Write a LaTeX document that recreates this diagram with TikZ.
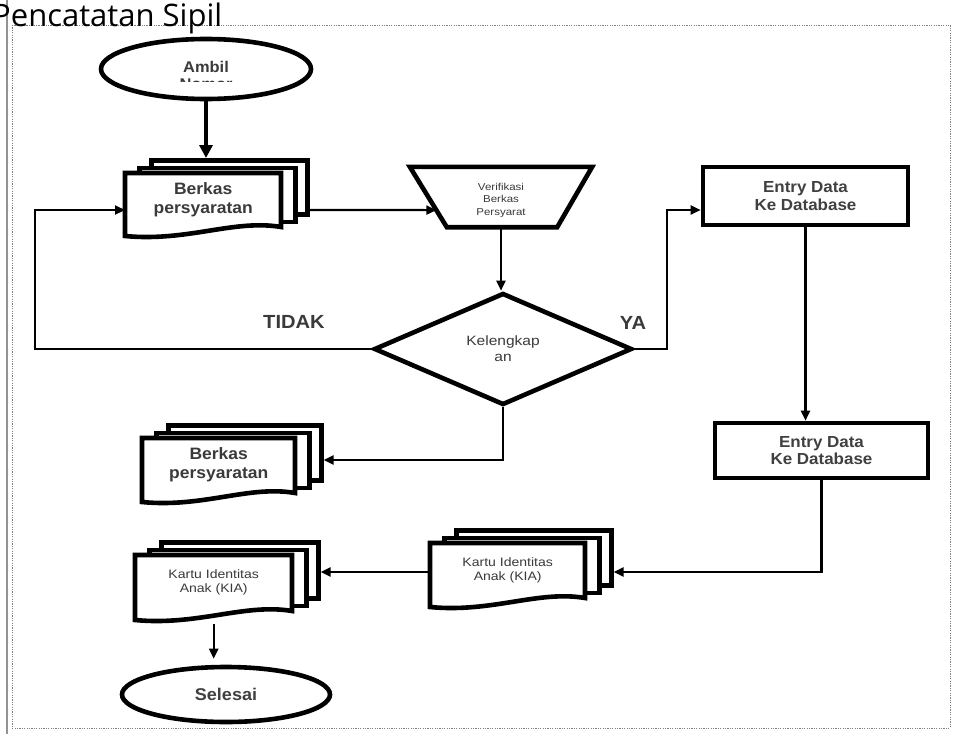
\documentclass[tikz,border=0pt]{standalone}
\usepackage{fontspec}
\setmainfont{Liberation Sans}
\newfontfamily\titlefont{Open Sans}
\newfontfamily\dgfont[FakeStretch=1.15]{Liberation Sans}
\newfontfamily\dgbold[FakeStretch=1.06]{Liberation Sans Bold}
\usetikzlibrary{shapes.geometric,arrows.meta,calc}
\definecolor{txtgray}{HTML}{3A3A3A}
\definecolor{boldgray}{HTML}{404040}
\newcommand{\fsz}[2]{\dgfont\fontsize{#1}{#2}\selectfont}
\newcommand{\fbz}[2]{\dgbold\fontsize{#1}{#2}\selectfont\color{boldgray}}
% document stack: #1 name, #2 left, #3 top, #4 width, #5 height, #6 text, #7 font
\newcommand{\dstack}[7]{%
  \node[shapeline, rectangle, minimum width=#4 pt, minimum height=#5 pt-9pt, anchor=north west, inner sep=0pt] (#1c) at (#2+24,#3-15) {};
  \node[shapeline, rectangle, minimum width=#4 pt, minimum height=#5 pt-9pt, anchor=north west, inner sep=0pt] (#1b) at (#2+12,#3-7.5) {};
  \node[rectangle, minimum width=#4 pt, minimum height=#5 pt, anchor=north west, inner sep=0pt] (#1a) at (#2,#3) {};
  \draw[shapeline] (#2,#3) -- (#2+#4,#3) -- (#2+#4,#3+#5-9)
     .. controls (#2+0.7*#4,#3+#5-17) and (#2+0.4*#4,#3+#5+6) .. (#2,#3+#5) -- cycle;
  \node[lbl, font=#7] (#1t) at ([yshift=5pt]#1a.center) {#6};
}
\begin{document}
\begin{tikzpicture}[
  x=1pt, y=-1pt,
  shapeline/.style={line width=4.6pt, draw=black, fill=white, line join=miter},
  conn/.style={line width=2.2pt, draw=black},
  arr/.style={conn, -{Triangle[length=10pt,width=9pt]}},
  bigarr/.style={line width=4pt, draw=black, -{Triangle[length=13pt,width=13pt]}},
  lbl/.style={text=txtgray, align=center, inner sep=0pt},
]
\useasboundingbox (0,0) rectangle (960,736);
\clip (0,0) rectangle (960,736);

% frame
\draw[gray, line width=1pt, dash pattern=on 1.2pt off 1.2pt] (12,25) rectangle (950,728);
\draw[gray!85, line width=1.6pt] (7,0) -- (7,734);
\node[anchor=base west, inner sep=0pt, font=\titlefont\fontsize{31}{33}\selectfont] (title) at (-8,26) {Pencatatan Sipil};

% helper levels
\coordinate (row1) at (0,210);
\coordinate (row2) at (0,460);
\coordinate (row3) at (0,572);
\coordinate (lx) at (35,0);
\coordinate (yx) at (667,0);

% start ellipse
\node[shapeline, ellipse, minimum width=210pt, minimum height=60pt, inner sep=0pt] (amb) at (206,69) {};
\node[lbl, font=\fbz{15.5}{18}] (ambt) at (206,67) {Ambil};
\begin{scope}
  \clip (100,77) rectangle (310,81.5);
  \node[lbl, font=\fbz{15.5}{18}, anchor=north] (nomt) at (206,79) {Nomor};
\end{scope}

% top stack
\dstack{sa}{125}{173}{156}{63}{Berkas\\[1pt]persyaratan}{\fbz{16.5}{18}}

% trapezoid
\node[rectangle, minimum width=182pt, minimum height=60pt, inner sep=0pt] (trap) at (501,197) {};
\draw[shapeline] (trap.north west) -- (trap.north east) -- ([xshift=-35pt]trap.south east) -- ([xshift=37pt]trap.south west) -- cycle;
\node[lbl, font=\fsz{10}{12.5}] (trapt) at ([yshift=-3pt]trap.center) {Verifikasi\\Berkas\\Persyarat};
\coordinate (trapin) at ($(trap.north west)!0.717!([xshift=37pt]trap.south west)$);

% entry boxes
\node[shapeline, rectangle, minimum width=205pt, minimum height=58pt, inner sep=0pt, font=\fbz{16}{17.5}, align=center] (e1) at (805.5,196) {Entry Data\\Ke Database};
\node[shapeline, rectangle, minimum width=213pt, minimum height=55pt, inner sep=0pt, font=\fbz{16}{17.5}, align=center] (e2) at (821.5,450.5) {Entry Data\\Ke Database};

% decision
\node[shapeline, diamond, minimum width=258pt, minimum height=112pt, inner sep=0pt, font=\fsz{13.5}{16}, text=txtgray, align=center] (kel) at (503,349) {Kelengkap\\an};

% lower stacks
\dstack{sb}{142}{438}{153}{64}{Berkas\\[1pt]persyaratan}{\fbz{16.5}{18}}
\dstack{ka}{430}{543}{155}{64}{Kartu Identitas\\Anak (KIA)}{\fsz{12.2}{14}}
\dstack{kb}{135}{555}{157}{65}{Kartu Identitas\\Anak (KIA)}{\fsz{12.2}{14}}

% end ellipse
\node[shapeline, ellipse, minimum width=208pt, minimum height=55pt, inner sep=0pt, font=\fbz{17}{19}] (sel) at (226,694.5) {Selesai};

% labels
\node[lbl, font=\fbz{19}{21}\color{black!85}] (tidak) at (294,322) {TIDAK};
\node[lbl, font=\fbz{19}{21}\color{black!85}] (ya) at (633,323) {YA};

% connectors
\draw[bigarr] (amb.south) -- (amb.south |- sac.north);
\draw[arr] (sac.east |- row1) -- (trapin);
\draw[arr] (trap.south) -- (trap.south |- kel.north);
\draw[arr] (kel.west) -- (kel.west -| lx) |- (saa.west |- row1);
\draw[arr] (kel.east) -- (kel.east -| yx) |- (e1.west |- row1);
\draw[arr] (kel.south) |- (sbc.east |- row2);
\draw[arr] (e1.south) -- (e1.south |- e2.north);
\draw[arr, line width=2.8pt] (e2.south) |- (kac.east |- row3);
\draw[arr] (kaa.west |- row3) -- (kbc.east |- row3);
\draw[arr, shorten <=4pt, shorten >=6pt] (kba.south -| kbt) -- (sel.north -| kbt);
\end{tikzpicture}
\end{document}
